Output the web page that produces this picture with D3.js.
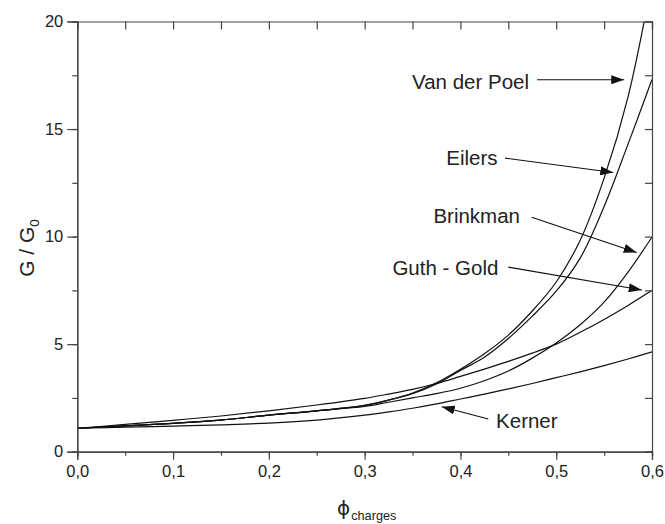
<!DOCTYPE html>
<html><head><meta charset="utf-8">
<script src="https://cdn.jsdelivr.net/npm/d3@7"></script>
<style>body{margin:0;background:#fff}text{font-family:"Liberation Sans",Arial,sans-serif;fill:#222}</style>
</head><body>
<svg id="c" width="665" height="524"></svg>
<script>
// ---- data ----
const phi        = [0, 0.05, 0.1, 0.15, 0.2, 0.25, 0.3, 0.325, 0.35, 0.375, 0.4, 0.425, 0.45, 0.475, 0.5, 0.525, 0.55, 0.575, 0.6];
const kerner     = [1.09, 1.14, 1.19, 1.25, 1.33, 1.47, 1.70, 1.85, 2.02, 2.22, 2.45, 2.68, 2.92, 3.17, 3.44, 3.71, 4.00, 4.31, 4.64];
const guthGold   = [1.09, 1.27, 1.46, 1.66, 1.90, 2.17, 2.48, 2.68, 2.90, 3.17, 3.50, 3.84, 4.20, 4.58, 5.00, 5.55, 6.15, 6.80, 7.50];
const brinkman   = [1.09, 1.20, 1.32, 1.47, 1.70, 1.90, 2.10, 2.30, 2.50, 2.70, 2.95, 3.30, 3.75, 4.35, 5.05, 5.90, 6.95, 8.35, 9.98];
const eilers     = [1.09, 1.20, 1.32, 1.47, 1.70, 1.90, 2.15, 2.40, 2.70, 3.15, 3.78, 4.39, 5.26, 6.30, 7.46, 9.00, 11.40, 14.30, 17.30];
const vanDerPoel = [1.09, 1.20, 1.32, 1.47, 1.70, 1.90, 2.15, 2.40, 2.73, 3.20, 3.83, 4.55, 5.42, 6.54, 7.89, 9.83, 12.72, 16.50, 21.90];
const seriesNames = ["Kerner", "Guth - Gold", "Brinkman", "Eilers", "Van der Poel"];
const xTickValues = [0, 0.1, 0.2, 0.3, 0.4, 0.5, 0.6];
const xTickLabels = ["0,0", "0,1", "0,2", "0,3", "0,4", "0,5", "0,6"];
const yTickValues = [0, 5, 10, 15, 20];
const yTickLabels = ["0", "5", "10", "15", "20"];
// annotation anchors (data units): label end/start, arrow start, arrow tip
const annoLabel  = [[0.4372, 1.10], [0.4396, 8.22], [0.4622, 10.62], [0.4387, 13.33], [0.4716, 16.85]];
const annoFrom   = [[0.4291, 1.52], [0.4500, 8.58], [0.4744, 10.90], [0.4466, 13.65], [0.4800, 17.29]];
const annoTo     = [[0.3805, 2.09], [0.5893, 7.52], [0.5840, 9.26], [0.5596, 12.98], [0.5710, 17.29]];

const allSeries = [kerner, guthGold, brinkman, eilers, vanDerPoel];
const FONT = '"Liberation Sans",Arial,sans-serif';

// ---- layout ----
const L = 77.3, R = 652, T = 21.5, B = 451.7;
const svg = d3.select("#c");
const x = d3.scaleLinear().domain([0, 0.6]).range([L, R]);
const y = d3.scaleLinear().domain([0, 20]).range([B, T]);
const axisCol = "#444";

svg.append("defs").append("clipPath").attr("id","clip")
  .append("rect").attr("x",L).attr("y",T).attr("width",R-L).attr("height",B-T);
const mk = svg.select("defs").append("marker").attr("id","ah")
  .attr("viewBox","0 0 13 9").attr("refX",13).attr("refY",4.5)
  .attr("markerWidth",13).attr("markerHeight",9).attr("markerUnits","userSpaceOnUse")
  .attr("orient","auto");
mk.append("path").attr("d","M0,0L13,4.5L0,9Z").attr("fill","#111");

// curves
const line = d3.line().x((d,i)=>x(phi[i])).y(d=>y(d)).curve(d3.curveCatmullRom.alpha(0.5));
svg.append("g").attr("clip-path","url(#clip)").selectAll("path").data(allSeries).join("path")
  .attr("d", line).attr("fill","none").attr("stroke","#111").attr("stroke-width",1.2);

// axes
const minorX = d3.range(0, 0.6001, 0.05);
const minorY = d3.range(0, 20.001, 2.5);
const gx = svg.append("g").attr("transform",`translate(0,${B})`)
  .call(d3.axisBottom(x).tickValues(minorX).tickSize(4).tickFormat(""));
const gx2 = svg.append("g").attr("transform",`translate(0,${B})`)
  .call(d3.axisBottom(x).tickValues(xTickValues).tickSize(8).tickPadding(6)
    .tickFormat((d,i)=>xTickLabels[i]));
const gy = svg.append("g").attr("transform",`translate(${L},0)`)
  .call(d3.axisLeft(y).tickValues(minorY).tickSize(5).tickFormat(""));
const gy2 = svg.append("g").attr("transform",`translate(${L},0)`)
  .call(d3.axisLeft(y).tickValues(yTickValues).tickSize(10).tickPadding(4)
    .tickFormat((d,i)=>yTickLabels[i]));
const gt = svg.append("g").attr("transform",`translate(0,${T})`)
  .call(d3.axisTop(x).tickValues(minorX).tickSize(-8).tickFormat(""));
const gr = svg.append("g").attr("transform",`translate(${R},0)`)
  .call(d3.axisRight(y).tickValues(minorY).tickSize(-7).tickFormat(""));
[gx,gx2,gy,gy2,gt,gr].forEach(g=>{
  g.attr("font-family", FONT);
  g.select(".domain").attr("stroke",axisCol).attr("stroke-width",1.2);
  g.selectAll(".tick line").attr("stroke",axisCol).attr("stroke-width",1.2);
  g.selectAll(".tick text").style("font-size","16.5px").style("fill","#222")
    .style("font-family", FONT);
});

// annotations
seriesNames.forEach((name,i)=>{
  const isK = i===0;
  svg.append("text").attr("x", x(annoLabel[i][0])).attr("y", y(annoLabel[i][1]))
    .attr("text-anchor", isK ? "start" : "end").attr("font-size",20.5).text(name);
  svg.append("line").attr("x1",x(annoFrom[i][0])).attr("y1",y(annoFrom[i][1]))
    .attr("x2",x(annoTo[i][0])).attr("y2",y(annoTo[i][1]))
    .attr("stroke","#111").attr("stroke-width",1.1).attr("marker-end","url(#ah)");
});

// axis titles
const yt = svg.append("text").attr("transform","translate(34,248) rotate(-90)")
  .attr("text-anchor","middle").attr("font-size",21);
yt.append("tspan").text("G / G");
yt.append("tspan").attr("font-size",13.5).attr("dy",5).text("0");
const xt = svg.append("text").attr("x",337).attr("y",515).attr("font-size",22);
xt.append("tspan").style("font-family",'"DejaVu Sans",sans-serif').attr("font-size",20).text("\u03D5");
xt.append("tspan").attr("font-size",12.7).attr("dx",1).attr("dy",5).text("charges");
</script>
</body></html>
